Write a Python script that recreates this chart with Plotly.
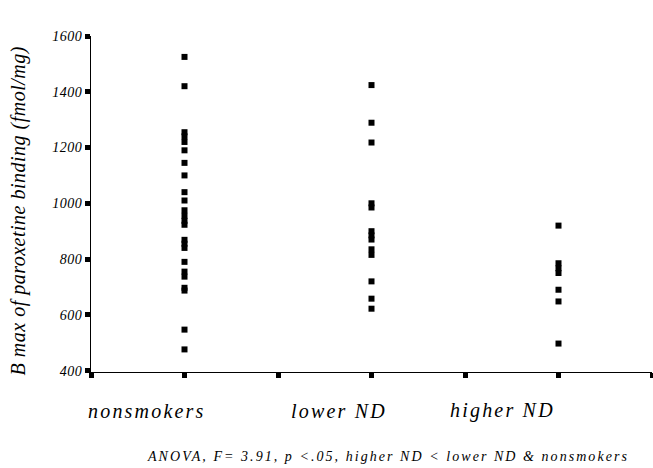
import plotly.graph_objects as go

groups = ["nonsmokers", "lower ND", "higher ND"]
group_x = [1, 3, 5]

nonsmokers = [1525, 1420, 1255, 1240, 1220, 1190, 1145, 1100, 1040, 1010, 975,
              955, 937, 923, 869, 855, 840, 790, 755, 737, 697, 687, 547, 476]
lower_nd = [1424, 1289, 1218, 1000, 985, 900, 885, 870, 835, 815, 720, 658, 622]
higher_nd = [920, 785, 767, 750, 690, 648, 497]

y_ticks = [400, 600, 800, 1000, 1200, 1400, 1600]
x_ticks = [0, 1, 2, 3, 4, 5, 6]

y_title = "B max of paroxetine binding (fmol/mg)"
note = "ANOVA, F= 3.91, p <.05, higher ND < lower ND & nonsmokers"

FONT = "Times New Roman"


def spaced(s, px):
    return '<span style="letter-spacing:%spx">%s</span>' % (px, s)


fig = go.Figure()
for gx, vals in zip(group_x, [nonsmokers, lower_nd, higher_nd]):
    fig.add_trace(go.Scatter(
        x=[gx] * len(vals), y=vals, mode="markers",
        marker=dict(symbol="square", size=6, color="black"),
        showlegend=False, cliponaxis=False,
    ))

fig.update_layout(
    width=653, height=468,
    margin=dict(l=91, r=1, t=36, b=96),
    plot_bgcolor="white", paper_bgcolor="white",
    xaxis=dict(range=[0, 6], tickvals=x_ticks, showticklabels=False,
               ticks="outside", ticklen=5, tickwidth=5, tickcolor="black",
               showline=True, linecolor="black", linewidth=1,
               showgrid=False, zeroline=False),
    yaxis=dict(range=[395, 1600], tickvals=y_ticks,
               ticktext=[spaced(str(t), 0.5) for t in y_ticks],
               ticks="outside", ticklen=5, tickwidth=5, tickcolor="black",
               showline=True, linecolor="black", linewidth=1,
               showgrid=False, zeroline=False,
               tickfont=dict(family=FONT, size=14, color="black", style="italic")),
)

label_x = [0.60, 2.65, 4.40]
for lx, g in zip(label_x, groups):
    fig.add_annotation(
        x=lx, y=-0.115, xref="x", yref="paper", showarrow=False,
        text=spaced(g, 2.2),
        font=dict(family=FONT, size=20, color="black", style="italic"),
        xanchor="center", yanchor="middle",
    )

fig.add_annotation(
    x=(18 - 91) / 561, y=0.478, xref="paper", yref="paper", showarrow=False,
    text=spaced(y_title, 0.5),
    textangle=-90,
    font=dict(family=FONT, size=20, color="black", style="italic"),
    xanchor="center", yanchor="middle",
)

fig.add_annotation(
    x=(388 - 91) / 561, y=-0.25, xref="paper", yref="paper", showarrow=False,
    text=spaced(note, 2.05),
    font=dict(family=FONT, size=14, color="black", style="italic"),
    xanchor="center", yanchor="middle",
)

fig.write_html("out.html", config={"displayModeBar": False},
               post_script="document.body.style.margin='0';")
